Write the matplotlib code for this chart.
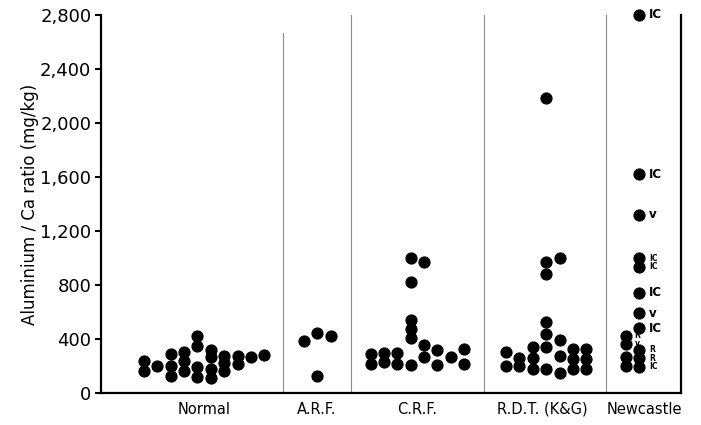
import matplotlib.pyplot as plt

# values, grouped into the stacked columns of each dot plot
normal = [
    [239, 165],
    [202],
    [289, 202, 126],
    [301, 237, 165],
    [424, 350, 195, 116],
    [319, 264, 178, 109],
    [276, 220, 163],
    [276, 213],
    [269],
    [281],
]
arf = [
    [387],
    [447, 126],
    [422],
]
crf = [
    [287, 213],
    [294, 232],
    [294, 213],
    [1002, 824, 541, 472, 405, 207],
    [968, 353, 264],
    [319, 207],
    [264],
    [324, 213],
]
rdt = [
    [301, 200],
    [257, 200],
    [343, 262, 180],
    [2183, 970, 881, 524, 437, 343, 178],
    [998, 393, 274, 146],
    [324, 250, 176],
    [324, 250, 176],
]
newcastle = [
    [424, 363, 264, 200],
    [2800, 1622, 1319, 998, 935, 743, 590, 479, 319, 257, 195],
]
newcastle_notes = [
    ["R", "v", "", ""],
    ["IC", "IC", "v", "IC", "IC", "IC", "v", "IC", "R", "R", "IC"],
]
group_names = ["Normal", "A.R.F.", "C.R.F.", "R.D.T. (K&G)", "Newcastle"]
yticks = [0, 400, 800, 1200, 1600, 2000, 2400, 2800]

# layout (x in pixel-like units across the axes)
groups = [normal, arf, crf, rdt, newcastle]
group_start = [143, 303.3, 370, 505.7, 626]
col_step = 13.4
dividers = [(282, 2670), (350, 2800), (484, 2800), (606, 2800)]
label_x = [203, 316, 417, 542, 644]

fig = plt.figure(figsize=(7.01, 4.25), dpi=100)
ax = fig.add_axes([101 / 701, 1 - 393 / 425, 580 / 701, 378 / 425])

for cols, x0 in zip(groups, group_start):
    for i, col in enumerate(cols):
        ax.plot([x0 + i * col_step] * len(col), col, "o", color="black",
                ms=7.8, mec="black", clip_on=False, zorder=3)

x_nc = group_start[4]
for i, (col, notes) in enumerate(zip(newcastle, newcastle_notes)):
    for v, note in zip(col, notes):
        if not note:
            continue
        crowded = i == 0 or v < 1000 and v not in (743, 590, 479)
        size = 5.5 if crowded else 8.5
        ax.annotate(note, (x_nc + i * col_step, v), xytext=(6 if i == 0 else 7, 0),
                    textcoords="offset points", va="center", ha="left",
                    fontsize=size, fontweight="bold", annotation_clip=False)

for x, top in dividers:
    ax.plot([x, x], [0, top], color="#8a8a8a", lw=0.8, zorder=1)

for name, x in zip(group_names, label_x):
    ax.text(x, -65, name, ha="center", va="top", fontsize=10.5)

ax.set_xlim(100, 681)
ax.set_ylim(0, 2800)
ax.set_xticks([])
ax.set_yticks(yticks)
ax.set_yticklabels([f"{t:,}" for t in yticks], fontsize=13)
ax.tick_params(axis="y", direction="out", length=4, width=1.5, pad=3)
ax.set_ylabel("Aluminium / Ca ratio (mg/kg)", fontsize=12, labelpad=1)

ax.spines["top"].set_visible(False)
for side in ["left", "bottom", "right"]:
    ax.spines[side].set_linewidth(1.6)

fig.savefig("out.png", dpi=100)
